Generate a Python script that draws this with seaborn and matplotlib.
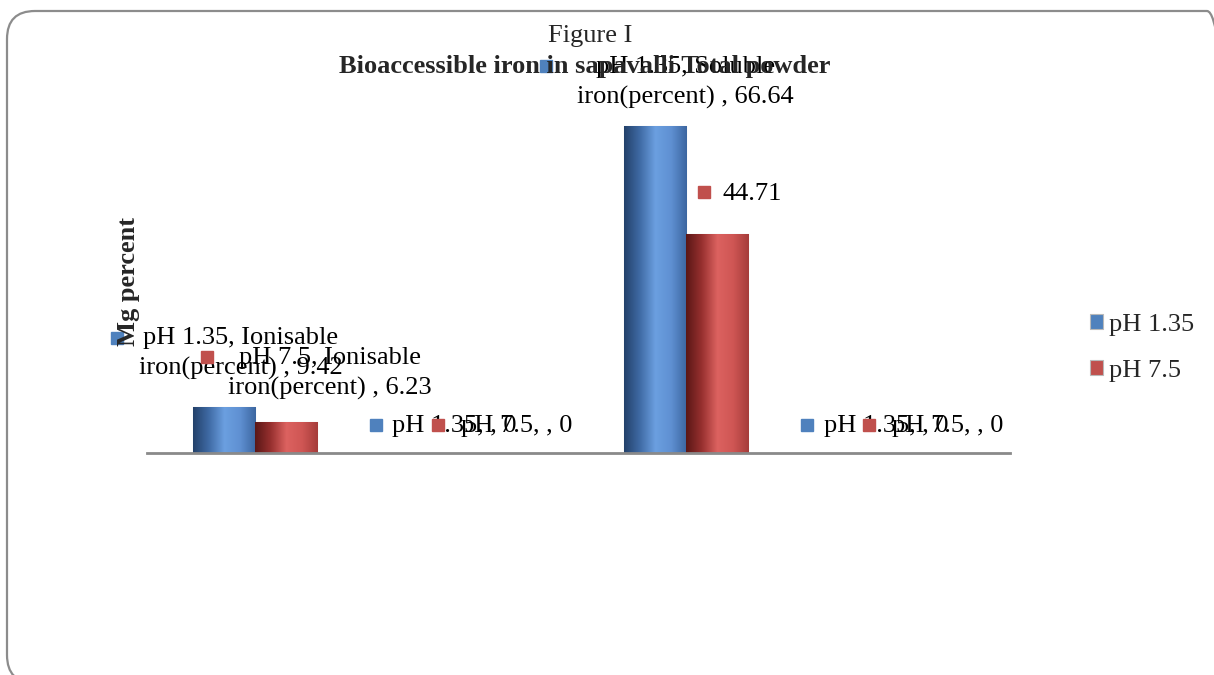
import numpy as np
import pandas as pd
import seaborn as sns
import matplotlib.pyplot as plt
from matplotlib.patches import FancyBboxPatch
from matplotlib.transforms import offset_copy, IdentityTransform
from matplotlib.colors import LinearSegmentedColormap

# data
categories = ['Ionisable iron(percent)', '', 'Soluble iron(percent)', ' ']
series = ['pH 1.35', 'pH 7.5']
ph_135 = [9.42, 0, 66.64, 0]
ph_75 = [6.23, 0, 44.71, 0]

colors = {'pH 1.35': '#4F81BD', 'pH 7.5': '#C0504D'}
shades = {
    'pH 1.35': ['#23416a', '#3f6aa4', '#6b9fe0', '#5f90d2', '#3c66a0'],
    'pH 7.5': ['#5a1716', '#97302f', '#dc6260', '#cf5654', '#a53c3a'],
}

df = pd.DataFrame({
    'category': categories * 2,
    'series': [series[0]] * 4 + [series[1]] * 4,
    'value': ph_135 + ph_75,
})

sns.set_style('white')
plt.rcParams['font.family'] = ['Liberation Serif', 'DejaVu Serif']
FS = 19

W, H = 1214, 675
fig = plt.figure(figsize=(W / 100, H / 100), dpi=100)

# plot area in pixels (from top-left)
left, right, base, top = 147, 1010, 453, 110
ax = fig.add_axes([left / W, 1 - base / H, (right - left) / W, (base - top) / H])

sns.barplot(data=df, x='category', y='value', hue='series', order=categories,
            hue_order=series, palette=colors, width=0.575, gap=0, ax=ax,
            edgecolor='#b9b9b9', linewidth=0.8, legend=True, saturation=1)
ax.set_ylim(0, 70)
xlim = ax.get_xlim()

# shaded look on the bars
for s, cont in zip(series, ax.containers):
    cmap = LinearSegmentedColormap.from_list(s, shades[s])
    grad = np.linspace(0, 1, 256).reshape(1, -1)
    for bar in cont:
        h = bar.get_height()
        if h <= 0:
            continue
        x0 = bar.get_x()
        im = ax.imshow(grad, cmap=cmap, aspect='auto', zorder=bar.get_zorder() + 0.1,
                       extent=[x0, x0 + bar.get_width(), 0, h])
        im.set_clip_path(bar)
ax.set_xlim(xlim)
ax.set_ylim(0, 70)

for side in ['top', 'right', 'left']:
    ax.spines[side].set_visible(False)
ax.spines['bottom'].set_color('#8a8a8a')
ax.spines['bottom'].set_linewidth(2)
ax.set_xticks([])
ax.set_yticks([])
ax.set_xlabel('')
ax.set_ylabel('')

# data label placement: (text dx, text dy, square dx, square dy) in pixels from bar top
label_pos = {
    (0, 0): (17, 53, -107, 69),
    (1, 0): (44, 49, -79, 65),
    (0, 2): (30, 44, -109, 60),
    (1, 2): (35, 40, -13, 42),
}
zero_pos = (15, 27, -64, 28)

for i, (s, cont) in enumerate(zip(series, ax.containers)):
    vals = ph_135 if i == 0 else ph_75
    for j, bar in enumerate(cont):
        c, v = categories[j], vals[j]
        if c.strip():
            txt = f'{s}, {c} , {v:g}'.replace(' iron(', '\niron(')
        else:
            txt = f'{s}, , {v:g}'
        if (i, j) == (1, 2):
            txt = f'{v:g}'
        tdx, tdy, sdx, sdy = label_pos.get((i, j), zero_pos)
        xc = bar.get_x() + bar.get_width() / 2
        yt = bar.get_height()
        tr = offset_copy(ax.transData, fig=fig, x=tdx, y=tdy, units='dots')
        ax.text(xc, yt, txt, transform=tr, ha='center', va='center',
                fontsize=FS, linespacing=1.45, color='black', clip_on=False, zorder=5)
        trs = offset_copy(ax.transData, fig=fig, x=sdx, y=sdy, units='dots')
        ax.plot([xc], [yt], marker='s', markersize=8.5, color=colors[s],
                transform=trs, clip_on=False, zorder=5)

# legend
handles, labels = ax.get_legend_handles_labels()
ax.get_legend().remove()
fig.legend(handles, labels, loc='center left', bbox_to_anchor=(1077 / W, 1 - 348 / H),
           frameon=False, fontsize=FS, handlelength=0.48, handleheight=0.48,
           handletextpad=0.22, labelspacing=0.9, borderpad=0)

# titles and axis title
fig.text(590 / W, 1 - 36 / H, 'Figure I', ha='center', va='center', fontsize=FS)
fig.text(585 / W, 1 - 66 / H, 'Bioaccessible iron in sapavalli Total powder',
         ha='center', va='center', fontsize=FS, fontweight='bold')
fig.text(128 / W, 1 - 281 / H, 'Mg percent', rotation=90, ha='center', va='center',
         fontsize=FS, fontweight='bold')

# rounded chart frame (runs off the right and bottom edges)
frame = FancyBboxPatch((7, -8), 1228, 672, boxstyle='round,pad=0,rounding_size=28',
                       transform=IdentityTransform(), fill=False,
                       edgecolor='#8c8c8c', linewidth=1.6)
fig.patches.append(frame)

fig.savefig('out.png', dpi=100)
